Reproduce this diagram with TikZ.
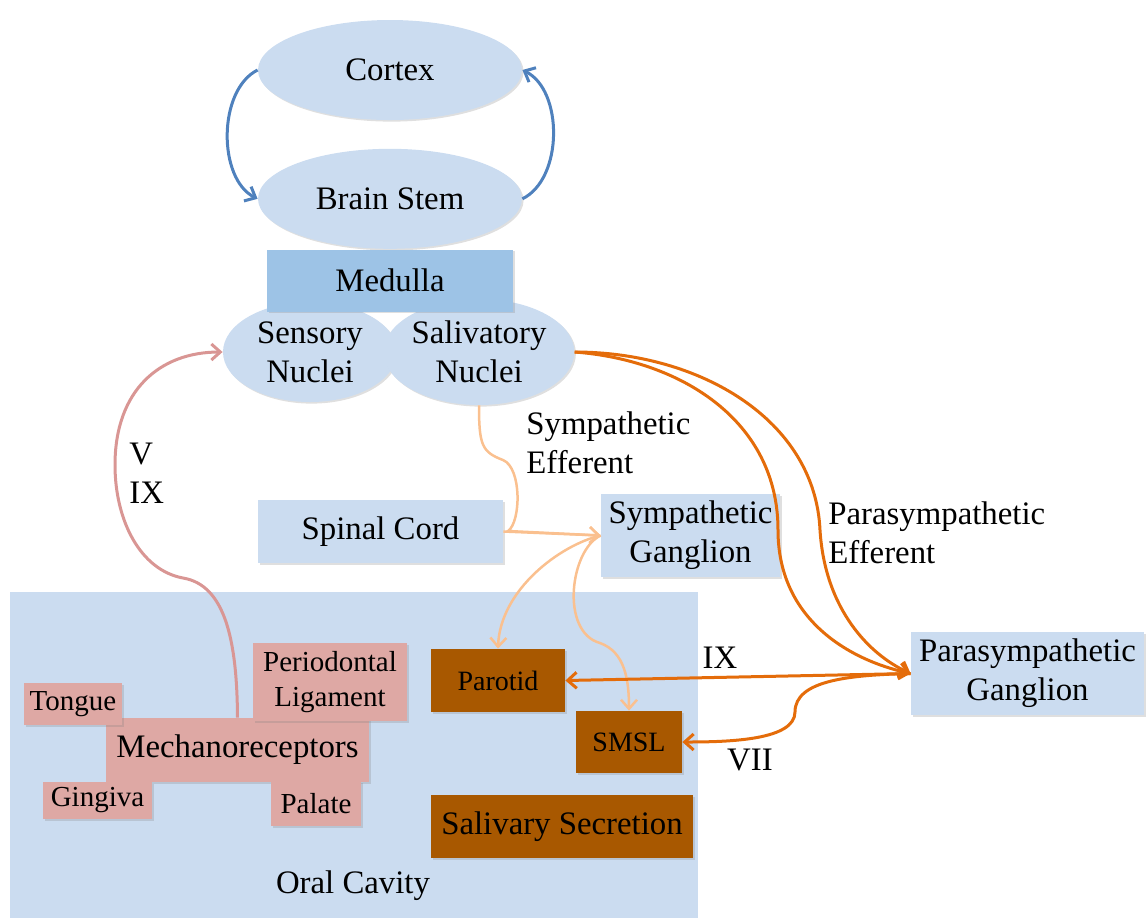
\documentclass[tikz,border=0pt]{standalone}
\usepackage{fontspec}
\setmainfont{Liberation Serif}
\usetikzlibrary{arrows.meta,positioning,shapes.geometric,shadows}
\definecolor{paleblue}{RGB}{203,220,240}
\definecolor{midblue}{RGB}{157,195,230}
\definecolor{loopblue}{RGB}{79,129,189}
\definecolor{rose}{RGB}{222,168,164}
\definecolor{roseline}{RGB}{217,150,148}
\definecolor{rust}{RGB}{168,88,0}
\definecolor{peach}{RGB}{250,192,143}
\definecolor{deeporange}{RGB}{228,108,10}
\tikzset{
    %Define standard arrow tip
    >={Straight Barb[length=4.5pt,width=8pt]},
    %Define soft shadow
    soft/.style={
           drop shadow={shadow xshift=0.8pt,shadow yshift=-0.8pt,opacity=0.25}},
    %Define style for ovals
    oval/.style={
           ellipse,
           soft,
           fill=paleblue,
           inner sep=0pt,
           align=center,
           font=\fontsize{16.4}{19.5}\selectfont},
    %Define style for boxes
    blok/.style={
           rectangle,
           soft,
           fill=paleblue,
           inner sep=0pt,
           align=center,
           font=\fontsize{16.4}{19.5}\selectfont},
    tag/.style={
           blok,
           fill=rose,
           font=\fontsize{14.5}{17.5}\selectfont},
    gland/.style={
           blok,
           fill=rust},
    %Define style for labels
    note/.style={
           align=left,
           inner sep=0pt,
           font=\fontsize{16.4}{19.5}\selectfont},
    % Define arrow styles
    feedback/.style={->,draw=loopblue,line width=1.5pt},
    sense/.style={->,draw=roseline,line width=1.5pt},
    symp/.style={->,draw=peach,line width=1.25pt},
    para/.style={->,draw=deeporange,line width=1.5pt}
}
\begin{document}
\begin{tikzpicture}[x=0.5pt,y=-0.5pt]
  \useasboundingbox (0,0) rectangle (1146,918);
  % oral cavity
  \node[fill=paleblue,inner sep=0pt,minimum width=344pt,minimum height=163pt] (cavity) at (354,755) {};
  \node[note] (oral) at (353,886) {Oral Cavity};
  % brain
  \node[oval,minimum width=132pt,minimum height=50pt] (cortex) at (390,70) {Cortex};
  \node[oval,minimum width=132pt,minimum height=50pt,below=14pt of cortex] (brainstem) {Brain Stem};
  \node[oval,minimum width=87pt,minimum height=50pt] (sensory) at (310,352) {Sensory\\Nuclei};
  \node[oval,minimum width=90pt,minimum height=53pt] (salivatory) at (479,352) {Salivatory\\Nuclei};
  \node[blok,fill=midblue,minimum width=123pt,minimum height=31pt,below=0pt of brainstem] (medulla) {Medulla};
  % ganglia
  \node[blok,minimum width=122.5pt,minimum height=31.5pt] (spinal) at (380.5,531.5) {Spinal Cord};
  \node[blok,minimum width=89.5pt,minimum height=41.5pt] (sg) at (690.5,535.5) {Sympathetic\\Ganglion};
  \node[blok,minimum width=116.5pt,minimum height=41.5pt] (pg) at (1027.5,673.5) {Parasympathetic\\Ganglion};
  % glands
  \node[gland,minimum width=67pt,minimum height=31.5pt,font=\fontsize{14}{17}\selectfont] (parotid) at (498,680.5) {Parotid};
  \node[gland,minimum width=53pt,minimum height=31pt,font=\fontsize{14}{17}\selectfont] (smsl) at (629,742) {SMSL};
  \node[gland,minimum width=131pt,minimum height=31.5pt] (secretion) at (562,826.5) {Salivary Secretion};
  % receptors
  \node[tag,minimum width=131.5pt,minimum height=32pt,font=\fontsize{16.4}{19.5}\selectfont] (mech) at (237.5,750) {Mechanoreceptors};
  \node[tag,minimum width=49pt,minimum height=21pt] (tongue) at (73,704) {Tongue};
  \node[tag,minimum width=77pt,minimum height=39pt] (perio) at (330,682) {Periodontal\\Ligament};
  \node[tag,minimum width=54.5pt,minimum height=18.5pt] (gingiva) at (97.5,800.5) {Gingiva};
  \node[tag,minimum width=45pt,minimum height=22.5pt] (palate) at (316,803.5) {Palate};
  % labels
  \node[note,anchor=west] (sympnote) at (526,443) {Sympathetic\\Efferent};
  \node[note,anchor=west] (paranote) at (828,533) {Parasympathetic\\Efferent};
  \node[note,anchor=west] (sensenote) at (129,473) {V\\IX};
  \node[note] (ixnote) at (720,658) {IX};
  \node[note] (viinote) at (750,760) {VII};
  % brain loop
  \draw[feedback] (cortex.west) .. controls +(-40,20) and +(-40,-20) .. (brainstem.west);
  \draw[feedback] (brainstem.east) .. controls +(41,-20) and +(41,20) .. (cortex.east);
  % afferent
  \draw[sense] (mech.north) .. controls (237,640) and (225,585) .. (183,578)
    .. controls (140,570) and (115,520) .. (115,465)
    .. controls (115,390) and (160,352) .. (sensory.west);
  % sympathetic
  \draw[symp] (spinal.east) -- (sg.west);
  \draw[symp] (salivatory.south) .. controls +(0,40) and (482,452) .. (503,460)
    .. controls (522,468) and (521,522) .. (508,531) -- (sg.west);
  \draw[symp] (sg.west) .. controls (560,545) and (500,590) .. (parotid.north);
  \draw[symp] (sg.west) .. controls (570,550) and (560,632) .. (600,643)
    .. controls (625,652) and (629,680) .. (smsl.north);
  % parasympathetic
  \draw[para] (salivatory.east) .. controls (700,352) and (815,420) .. (820,530)
    .. controls (825,610) and (870,655) .. (pg.west);
  \draw[para] (salivatory.east) .. controls (680,360) and (778,420) .. (778,530)
    .. controls (778,620) and (850,660) .. (pg.west);
  \draw[para] (pg.west) -- (parotid.east);
  \draw[para] (pg.west) .. controls (850,675) and (795,680) .. (795,712)
    .. controls (795,740) and (730,742) .. (smsl.east);
\end{tikzpicture}
\end{document}
